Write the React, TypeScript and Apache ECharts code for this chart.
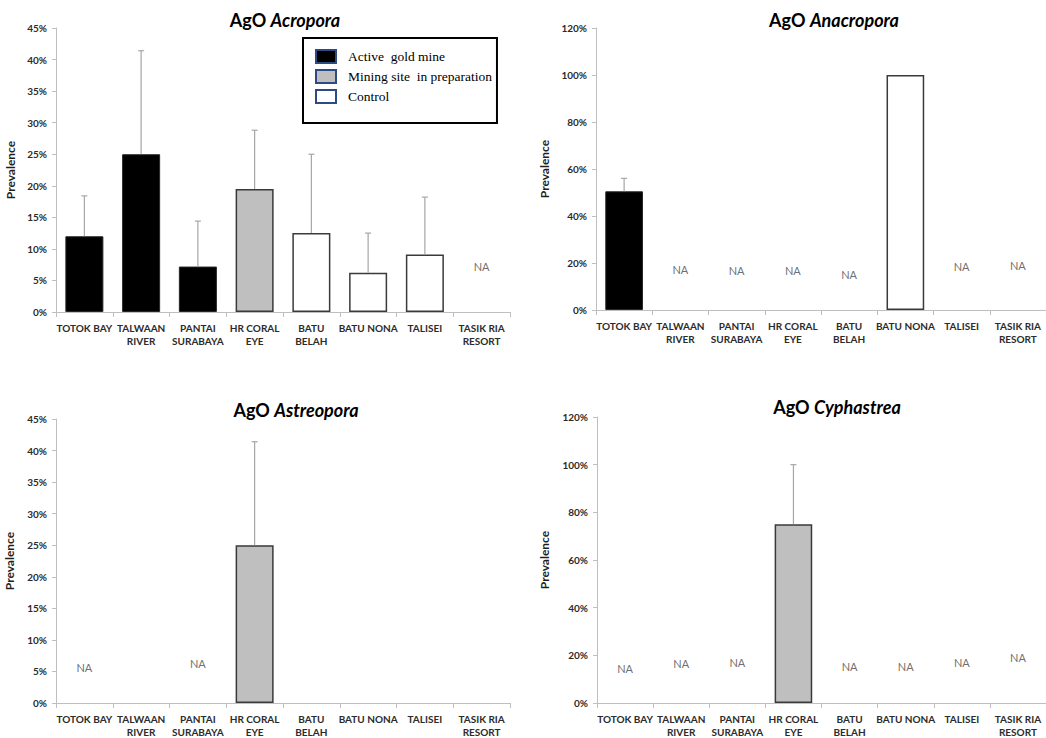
import React, { useEffect, useRef } from 'react';
import * as echarts from 'echarts';

const categories = [
  'TOTOK BAY',
  'TALWAAN\nRIVER',
  'PANTAI\nSURABAYA',
  'HR CORAL\nEYE',
  'BATU\nBELAH',
  'BATU NONA',
  'TALISEI',
  'TASIK RIA\nRESORT',
];
const siteGroups = ['active', 'active', 'active', 'prep', 'control', 'control', 'control', 'control'];
const groupKeys = ['active', 'prep', 'control'];
const groupNames: Record<string, string> = {
  active: 'Active  gold mine',
  prep: 'Mining site  in preparation',
  control: 'Control',
};

const acroporaMean = [12, 25, 7.2, 19.5, 12.5, 6.2, 9.1, null];
const acroporaUpper = [18.4, 41.4, 14.4, 28.8, 25, 12.5, 18.2, null];
const acroporaNA = [null, null, null, null, null, null, null, 7.2];

const anacroporaMean = [50.5, null, null, null, null, 100, null, null];
const anacroporaUpper = [56, null, null, null, null, null, null, null];
const anacroporaNA = [null, 17.4, 17, 17, 15.3, null, 18.4, 19];

const astreoporaMean = [null, null, null, 25, null, null, null, null];
const astreoporaUpper = [null, null, null, 41.4, null, null, null, null];
const astreoporaNA = [5.7, null, 6.3, null, null, null, null, null];

const cyphastreaMean = [null, null, null, 75, null, null, null, null];
const cyphastreaUpper = [null, null, null, 100, null, null, null, null];
const cyphastreaNA = [14.3, 16.4, 16.8, null, 15.5, 15.5, 17.2, 19.3];

const panels = [
  { genus: 'Acropora', mean: acroporaMean, upper: acroporaUpper, na: acroporaNA, max: 45, interval: 5,
    grid: { left: 56, top: 28, width: 454, height: 284 }, nameGap: 40, tx: 285, ty: 20 },
  { genus: 'Anacropora', mean: anacroporaMean, upper: anacroporaUpper, na: anacroporaNA, max: 120, interval: 20,
    grid: { left: 596, top: 28, width: 452, height: 282 }, nameGap: 46, tx: 834, ty: 20 },
  { genus: 'Astreopora', mean: astreoporaMean, upper: astreoporaUpper, na: astreoporaNA, max: 45, interval: 5,
    grid: { left: 56, top: 419, width: 454, height: 285 }, nameGap: 41, tx: 296, ty: 410 },
  { genus: 'Cyphastrea', mean: cyphastreaMean, upper: cyphastreaUpper, na: cyphastreaNA, max: 120, interval: 20,
    grid: { left: 597, top: 417, width: 452, height: 286 }, nameGap: 47, tx: 837, ty: 407 },
];

const barStyles: Record<string, any> = {
  active: { color: '#000000', borderColor: '#262626', borderWidth: 1 },
  prep: { color: '#bfbfbf', borderColor: '#3a3a3a', borderWidth: 1.5 },
  control: { color: '#ffffff', borderColor: '#3a3a3a', borderWidth: 1.5 },
};

function buildOption() {
  const grid: any[] = [];
  const xAxis: any[] = [];
  const yAxis: any[] = [];
  const series: any[] = [];
  const graphic: any[] = [];

  panels.forEach((p, i) => {
    grid.push({ ...p.grid, containLabel: false });
    xAxis.push({
      type: 'category',
      gridIndex: i,
      data: categories,
      axisLine: { lineStyle: { color: '#bfbfbf', width: 1 } },
      axisTick: { show: true, length: 5, lineStyle: { color: '#bfbfbf' } },
      axisLabel: {
        interval: 0,
        fontSize: 10,
        fontWeight: 'bold',
        color: '#2b2b2b',
        lineHeight: 13,
        margin: 9,
        fontFamily: 'Lato',
      },
    });
    yAxis.push({
      type: 'value',
      gridIndex: i,
      min: 0,
      max: p.max,
      interval: p.interval,
      axisLine: { show: true, lineStyle: { color: '#bfbfbf', width: 1 } },
      axisTick: { show: true, length: 4, lineStyle: { color: '#bfbfbf' } },
      splitLine: { show: false },
      axisLabel: {
        formatter: '{value}%',
        fontSize: 10,
        fontWeight: 'bold',
        color: '#2b2b2b',
        margin: 9,
        fontFamily: 'Lato',
      },
      name: 'Prevalence',
      nameLocation: 'middle',
      nameGap: p.nameGap,
      nameTextStyle: { fontSize: 12, fontWeight: 'bold', color: '#1f1f1f', fontFamily: 'Lato' },
    });

    groupKeys.forEach((g) => {
      series.push({
        type: 'bar',
        name: groupNames[g],
        xAxisIndex: i,
        yAxisIndex: i,
        data: p.mean.map((v, j) => (siteGroups[j] === g ? v : null)),
        barWidth: '67%',
        barGap: '-100%',
        itemStyle: barStyles[g],
        z: 2,
      });
    });

    const errData: any[] = [];
    p.upper.forEach((u, j) => {
      if (u != null && p.mean[j] != null) errData.push([j, p.mean[j], u]);
    });
    series.push({
      type: 'custom',
      xAxisIndex: i,
      yAxisIndex: i,
      data: errData,
      encode: { x: 0, y: [1, 2] },
      z: 3,
      renderItem: (params: any, api: any) => {
        const base = api.coord([api.value(0), api.value(1)]);
        const top = api.coord([api.value(0), api.value(2)]);
        const st = { stroke: '#a6a6a6', lineWidth: 1.2 };
        return {
          type: 'group',
          children: [
            { type: 'line', shape: { x1: base[0], y1: base[1], x2: base[0], y2: top[1] }, style: st },
            { type: 'line', shape: { x1: base[0] - 3, y1: top[1], x2: base[0] + 3, y2: top[1] }, style: st },
          ],
        };
      },
    });

    const naData: any[] = [];
    p.na.forEach((v, j) => {
      if (v != null) naData.push([j, v]);
    });
    series.push({
      type: 'scatter',
      xAxisIndex: i,
      yAxisIndex: i,
      data: naData,
      symbolSize: 1,
      itemStyle: { color: 'rgba(0,0,0,0)' },
      label: {
        show: true,
        formatter: 'NA',
        position: 'inside',
        color: '#474747',
        fontSize: 11,
        fontFamily: 'Lato',
      },
      z: 4,
    });

    graphic.push({
      type: 'text',
      x: p.tx,
      y: p.ty,
      style: {
        text: '{a|AgO }{b|' + p.genus + '}',
        rich: {
          a: { fontSize: 18, fontWeight: 'bold', fontFamily: 'Lato', fill: '#000' },
          b: { fontSize: 18, fontWeight: 'bold', fontStyle: 'italic', fontFamily: 'Lato', fill: '#000' },
        },
        align: 'center',
        verticalAlign: 'middle',
        textAlign: 'center',
        textVerticalAlign: 'middle',
      },
    });
  });

  return {
    animation: false,
    backgroundColor: '#ffffff',
    textStyle: { fontFamily: 'Lato' },
    grid,
    xAxis,
    yAxis,
    series,
    graphic,
    legend: {
      show: true,
      orient: 'vertical',
      left: 303,
      top: 38,
      itemWidth: 20,
      itemHeight: 13,
      itemGap: 5,
      borderColor: '#000',
      borderWidth: 2,
      padding: [11, 5, 19, 12],
      selectedMode: false,
      icon: 'rect',
      textStyle: {
        fontFamily: 'Liberation Serif',
        fontSize: 13.5,
        color: '#000',
        padding: [0, 0, 0, 7],
      },
      data: groupKeys.map((g) => ({
        name: groupNames[g],
        itemStyle: { color: barStyles[g].color, borderColor: '#2e4a85', borderWidth: 2 },
      })),
    },
  };
}

export default function App() {
  const ref = useRef<HTMLDivElement>(null);
  useEffect(() => {
    if (!ref.current) return;
    const chart = echarts.init(ref.current, undefined, { renderer: 'svg' });
    chart.setOption(buildOption() as any);
    return () => chart.dispose();
  }, []);
  return (
    <div
      ref={ref}
      style={{ position: 'absolute', left: 0, top: 0, width: 1046, height: 738, background: '#fff' }}
    />
  );
}
